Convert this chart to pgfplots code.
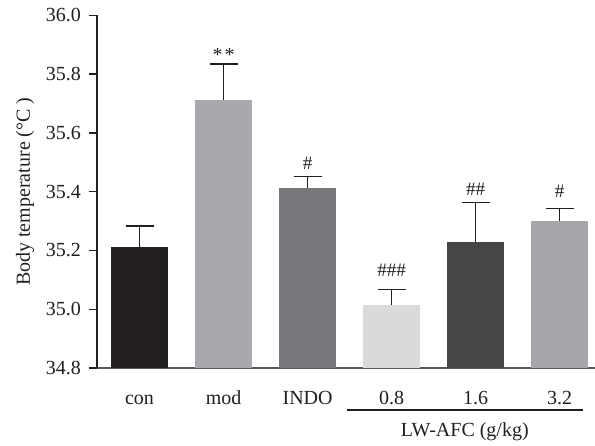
\documentclass[border=0pt]{standalone}
\usepackage{pgfplots}
\pgfplotsset{compat=1.18}
\usepackage{fontspec}
\setmainfont{Liberation Serif}
\definecolor{txt}{HTML}{231F20}
\definecolor{cCon}{HTML}{231F20}
\definecolor{cMod}{HTML}{A7A9AC}
\definecolor{cIndo}{HTML}{77787B}
\definecolor{cLow}{HTML}{D9DADB}
\definecolor{cMid}{HTML}{464648}
\definecolor{cHigh}{HTML}{A5A7AA}
\definecolor{axgray}{HTML}{58595B}
\begin{document}
\fontsize{20}{23}\selectfont
\begin{tikzpicture}
\pgfplotsset{myerr/.style={error bars/.cd, y dir=plus, y explicit,
  error bar style={line width=1.3pt, draw=txt},
  error mark options={line width=1.3pt, mark size=14pt, draw=txt, rotate=90}}}
\begin{axis}[
  scale only axis,
  width=498pt, height=352.7pt,
  xmin=-0.506, xmax=5.42,
  ymin=34.8, ymax=36.0,
  clip mode=individual,
  axis x line*=bottom,
  axis y line*=left,
  x axis line style={draw=axgray, line width=1.4pt, -},
  y axis line style={draw=txt, line width=1.3pt, -},
  xtick={0,1,2,3,4,5},
  xticklabels={con,mod,INDO,0.8,1.6,3.2},
  x tick style={draw=none},
  ytick={34.8,35.0,35.2,35.4,35.6,35.8,36.0},
  y tick style={draw=txt, line width=1.3pt},
  tick align=outside,
  major tick length=8pt,
  /pgf/number format/.cd, fixed, fixed zerofill, precision=1, assume math mode=true,
  /pgfplots/.cd,
  yticklabel style={font=\fontsize{20}{23}\selectfont, text=txt, inner sep=0pt, anchor=east, xshift=-8pt},
  xticklabel style={font=\fontsize{20}{23}\selectfont, text=txt, inner sep=0pt, anchor=base, yshift=-28.7pt},
]
\addplot[ybar, bar width=57pt, bar shift=0pt, fill=cCon, draw=none, myerr]
  coordinates {(0,35.213) +- (0,0.070)};
\addplot[ybar, bar width=57pt, bar shift=0pt, fill=cMod, draw=none, myerr]
  coordinates {(1,35.711) +- (0,0.123)};
\addplot[ybar, bar width=57pt, bar shift=0pt, fill=cIndo, draw=none, myerr]
  coordinates {(2,35.412) +- (0,0.039)};
\addplot[ybar, bar width=57pt, bar shift=0pt, fill=cLow, draw=none, myerr]
  coordinates {(3,35.013) +- (0,0.054)};
\addplot[ybar, bar width=57pt, bar shift=0pt, fill=cMid, draw=none, myerr]
  coordinates {(4,35.228) +- (0,0.135)};
\addplot[ybar, bar width=57pt, bar shift=0pt, fill=cHigh, draw=none, myerr]
  coordinates {(5,35.300) +- (0,0.043)};
% significance marks
\node[text=txt, font=\fontsize{20}{23}\selectfont, inner sep=0pt] at ([yshift=-3pt]axis cs:1,35.876) {*\hspace{2pt}*};
\node[text=txt, font=\fontsize{19}{22}\selectfont, inner sep=0pt] at (axis cs:2,35.496) {\#};
\node[text=txt, font=\fontsize{19}{22}\selectfont, inner sep=0pt] at (axis cs:3,35.133) {\#\#\#};
\node[text=txt, font=\fontsize{19}{22}\selectfont, inner sep=0pt] at (axis cs:4,35.408) {\#\#};
\node[text=txt, font=\fontsize{19}{22}\selectfont, inner sep=0pt] at (axis cs:5,35.402) {\#};
% group bracket
\draw[line width=1.3pt, draw=txt] ([yshift=-42pt]axis cs:2.467,34.8) -- ([yshift=-42pt]axis cs:5.276,34.8);
\node[text=txt] at ([yshift=-64pt]axis cs:3.87,34.8) {LW-AFC (g/kg)};
% y label
\node[text=txt, rotate=90] at ([xshift=-72pt]rel axis cs:0,0.5) {Body temperature (°C )};
\end{axis}
\pgfresetboundingbox
\path (-97pt,-77pt) rectangle (498pt,368pt);
\end{tikzpicture}
\end{document}
